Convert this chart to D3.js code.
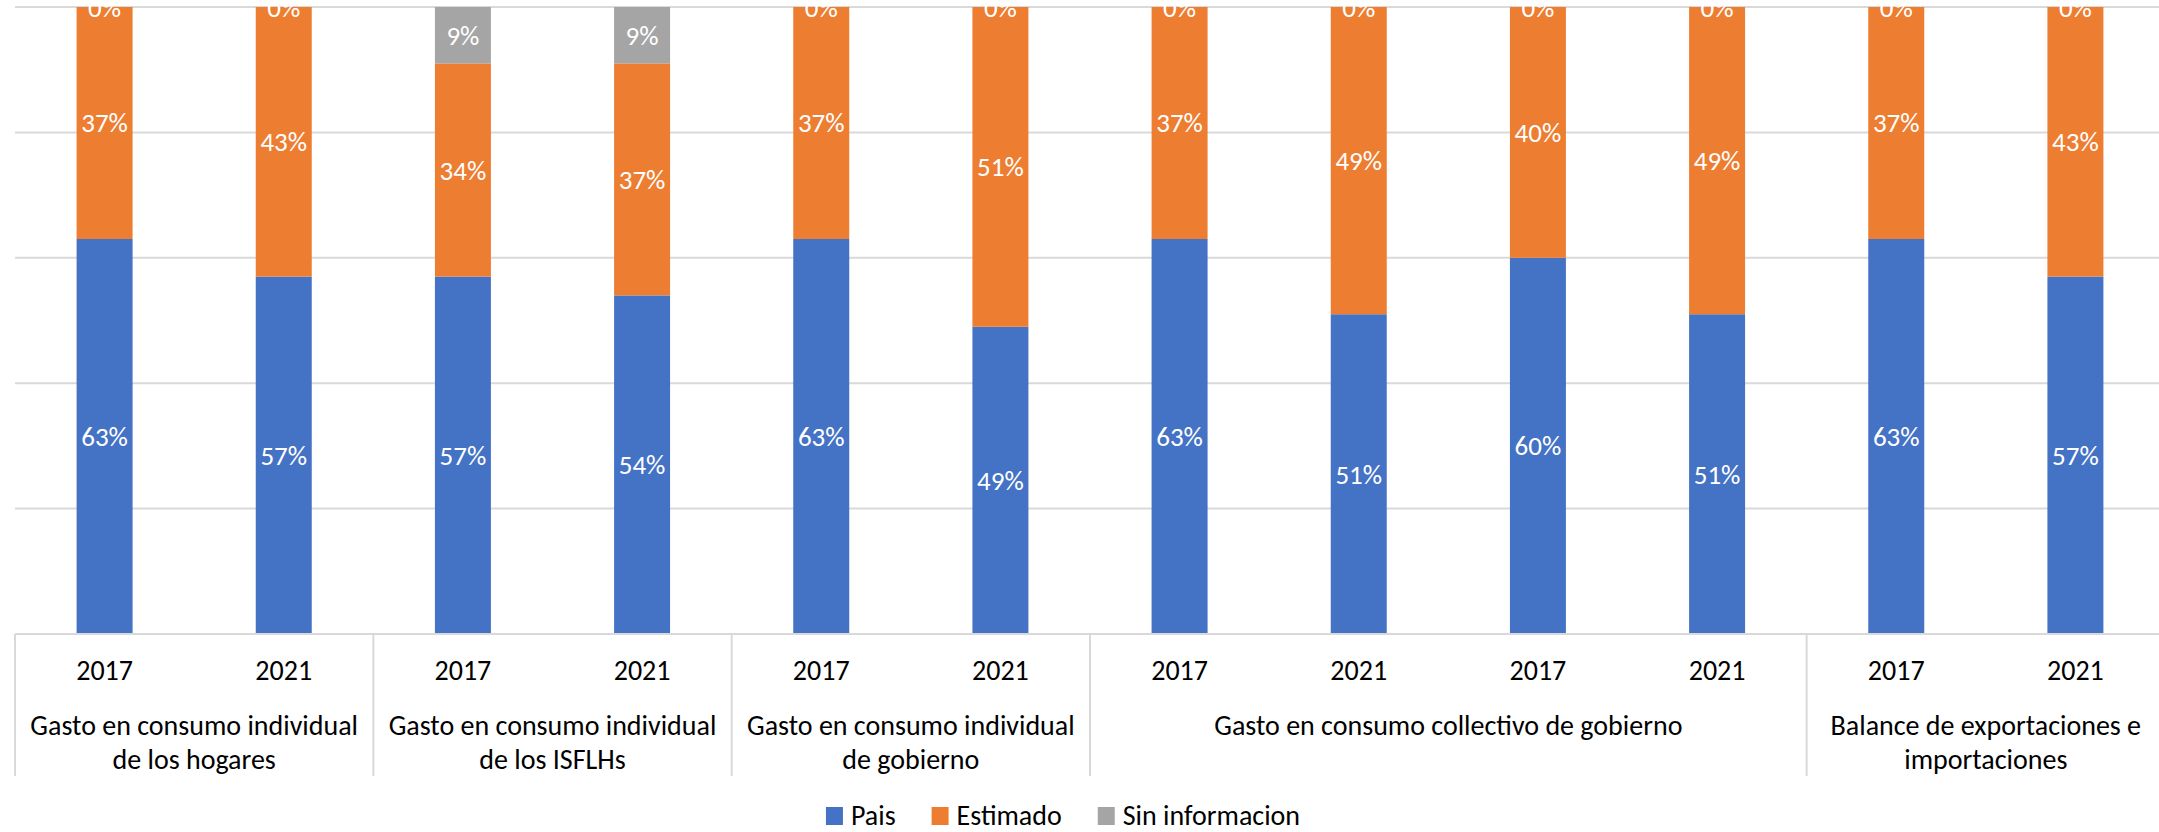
<!DOCTYPE html>
<html>
<head>
<meta charset="utf-8">
<script src="https://cdn.jsdelivr.net/npm/d3@7"></script>
<style>
  html, body { margin: 0; padding: 0; background: #fff; }
  svg text { font-family: Carlito, Calibri, Lato, "Open Sans", sans-serif; }
</style>
</head>
<body>
<svg id="chart" width="2159" height="832"></svg>
<script>
// data
const years = ["2017", "2021", "2017", "2021", "2017", "2021", "2017", "2021", "2017", "2021", "2017", "2021"];
const groupLabels = [
    ["Gasto en consumo individual", "de los hogares"],
    ["Gasto en consumo individual", "de los ISFLHs"],
    ["Gasto en consumo individual", "de gobierno"],
    ["Gasto en consumo collectivo de gobierno"],
    ["Balance de exportaciones e", "importaciones"]
];
const groupSizes = [2, 2, 2, 4, 2];
const pais     = [63, 57, 57, 54, 63, 49, 63, 51, 60, 51, 63, 57];
const estimado = [37, 43, 34, 37, 37, 51, 37, 49, 40, 49, 37, 43];
const sinInfo  = [0, 0, 9, 9, 0, 0, 0, 0, 0, 0, 0, 0];
const seriesNames = ["Pais", "Estimado", "Sin informacion"];
const colors = ["#4472C4", "#ED7D31", "#A5A5A5"];

// layout
const plotLeft = 15, plotRight = 2165, plotTop = 7, plotBottom = 634;
const svg = d3.select("#chart");

const rows = years.map((y, i) => ({ i: i, Pais: pais[i], Estimado: estimado[i], "Sin informacion": sinInfo[i] }));
const stack = d3.stack().keys(seriesNames);
const stacked = stack(rows);

const x = d3.scaleBand()
    .domain(rows.map(d => d.i))
    .range([plotLeft, plotRight])
    .paddingInner(0.6875)
    .paddingOuter(0.34375);

const y = d3.scaleLinear()
    .domain([0, 100])
    .range([plotBottom, plotTop]);

// gridlines
svg.append("g")
    .selectAll("line")
    .data(y.ticks(5))
    .enter().append("line")
    .attr("x1", plotLeft)
    .attr("x2", plotRight)
    .attr("y1", d => y(d))
    .attr("y2", d => y(d))
    .attr("stroke", "#d9d9d9")
    .attr("stroke-width", 2);

// bars
const layers = svg.append("g")
    .selectAll("g")
    .data(stacked)
    .enter().append("g")
    .attr("fill", (d, k) => colors[k]);

layers.selectAll("rect")
    .data(d => d)
    .enter().append("rect")
    .attr("x", d => x(d.data.i))
    .attr("width", x.bandwidth())
    .attr("y", d => y(d[1]))
    .attr("height", d => y(d[0]) - y(d[1]));

// data labels
layers.selectAll("text")
    .data(d => d)
    .enter().append("text")
    .attr("x", d => x(d.data.i) + x.bandwidth() / 2)
    .attr("y", d => y((d[0] + d[1]) / 2))
    .attr("text-anchor", "middle")
    .attr("dominant-baseline", "central")
    .attr("fill", "#fff")
    .style("font-size", "27px")
    .text(d => (d[1] - d[0]) + "%");

// category axis: years
svg.append("g")
    .selectAll("text")
    .data(rows)
    .enter().append("text")
    .attr("x", d => x(d.i) + x.bandwidth() / 2)
    .attr("y", 670)
    .attr("text-anchor", "middle")
    .attr("dominant-baseline", "central")
    .attr("fill", "#000")
    .style("font-size", "28px")
    .text((d, i) => years[i]);

// group separators and labels
const step = x.step();
let start = 0;
const bounds = groupSizes.map(n => { const b = [start, start + n]; start += n; return b; });

svg.append("g")
    .selectAll("line")
    .data([0].concat(bounds.map(b => b[1])))
    .enter().append("line")
    .attr("x1", d => plotLeft + d * step)
    .attr("x2", d => plotLeft + d * step)
    .attr("y1", plotBottom)
    .attr("y2", 776)
    .attr("stroke", "#d9d9d9")
    .attr("stroke-width", 2);

const gl = svg.append("g")
    .selectAll("text")
    .data(bounds)
    .enter().append("text")
    .attr("text-anchor", "middle")
    .attr("fill", "#000")
    .style("font-size", "28px");

gl.selectAll("tspan")
    .data((b, gi) => groupLabels[gi].map(t => ({ t: t, cx: plotLeft + (b[0] + b[1]) / 2 * step })))
    .enter().append("tspan")
    .attr("x", d => d.cx)
    .attr("y", (d, k) => 725 + k * 34)
    .attr("dominant-baseline", "central")
    .text(d => d.t);

// x axis line
svg.append("line")
    .attr("x1", plotLeft).attr("x2", plotRight)
    .attr("y1", plotBottom).attr("y2", plotBottom)
    .attr("stroke", "#d9d9d9")
    .attr("stroke-width", 2);

// legend
const legend = svg.append("g");
const items = legend.selectAll("g")
    .data(seriesNames)
    .enter().append("g");

items.append("rect")
    .attr("width", 17)
    .attr("height", 18)
    .attr("y", 807)
    .attr("fill", (d, k) => colors[k]);

items.append("text")
    .attr("x", 25)
    .attr("y", 815)
    .attr("dominant-baseline", "central")
    .attr("fill", "#000")
    .style("font-size", "28px")
    .text(d => d);

let lx = 0;
const widths = [];
items.each(function () {
    widths.push(25 + d3.select(this).select("text").node().getComputedTextLength());
});
const totalW = d3.sum(widths) + 36 * (widths.length - 1);
lx = 1063 - totalW / 2;
items.attr("transform", (d, k) => {
    const t = `translate(${lx},0)`;
    lx += widths[k] + 36;
    return t;
});
</script>
</body>
</html>
